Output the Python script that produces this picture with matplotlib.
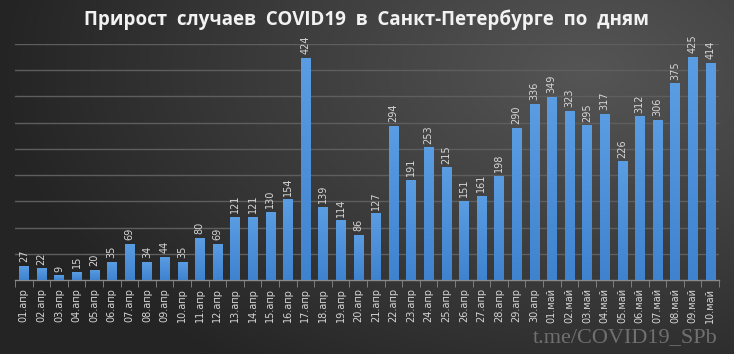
import numpy as np
import matplotlib
matplotlib.use("Agg")
import matplotlib.pyplot as plt
from matplotlib.colors import LinearSegmentedColormap

days_apr = [f"{d:02d}.апр" for d in range(1, 31)]
days_may = [f"{d:02d}.май" for d in range(1, 11)]
categories = days_apr + days_may
values = [27, 22, 9, 15, 20, 35, 69, 34, 44, 35,
          80, 69, 121, 121, 130, 154, 424, 139, 114, 86,
          127, 294, 191, 253, 215, 151, 161, 198, 290, 336,
          349, 323, 295, 317, 226, 312, 306, 375, 425, 414]
title = "Прирост  случаев  COVID19  в  Санкт-Петербурге  по  дням"
watermark = "t.me/COVID19_SPb"

W, H = 734, 354
fig = plt.figure(figsize=(W / 100, H / 100), dpi=100)

# background radial gradient
bg = fig.add_axes([0, 0, 1, 1], zorder=0)
yy, xx = np.mgrid[0:1:200j, 0:1:400j]
r = np.sqrt(((xx - 0.8) * 1.3) ** 2 + ((yy - 0.2) * 1.0) ** 2)
r = np.clip(r / 1.05, 0, 1)
cmap_bg = LinearSegmentedColormap.from_list("bg", ["#555555", "#3d3d3d", "#242424"])
bg.imshow(r, cmap=cmap_bg, aspect="auto", extent=[0, 1, 0, 1], origin="upper")
bg.axis("off")

ax = fig.add_axes([15 / W, 1 - 280 / H, 704 / W, (280 - 44) / H], zorder=1)
ax.patch.set_alpha(0)
x = np.arange(len(values))
bars = ax.bar(x, values, width=0.52, color="#4a8fd8", zorder=3)

# vertical gradient in bars
grad = np.linspace(0, 1, 100).reshape(-1, 1)
cmap_bar = LinearSegmentedColormap.from_list("bar", ["#5b9de2", "#3f83cf"])
for b in bars:
    bx, bw, bh = b.get_x(), b.get_width(), b.get_height()
    im = ax.imshow(grad, cmap=cmap_bar, aspect="auto",
                   extent=[bx, bx + bw, 0, bh], origin="upper", zorder=3)
    im.set_clip_path(b)

ax.set_xlim(-0.5, len(values) - 0.5)
ax.set_ylim(0, 450)
ax.set_yticks(np.arange(50, 451, 50))
ax.yaxis.grid(True, color="#5e5e5e", linewidth=1.0, zorder=1)
ax.tick_params(axis="y", length=0, labelleft=False)
for s in ["top", "right", "left"]:
    ax.spines[s].set_visible(False)
ax.spines["bottom"].set_color("#8a8a8a")
ax.spines["bottom"].set_linewidth(1.0)

ax.set_xticks(x)
ax.set_xticklabels(categories, rotation=90, color="#d6d6d6", fontsize=7,
                   family="DejaVu Sans")
ax.tick_params(axis="x", length=0, pad=6)
ax.set_xticks(np.arange(-0.5, len(values), 1), minor=True)
ax.tick_params(axis="x", which="minor", length=5, color="#8a8a8a")

for xi, v in zip(x, values):
    ax.text(xi, v + 7, str(v), rotation=90, ha="center", va="bottom",
            color="#d6d6d6", fontsize=7, family="DejaVu Sans", zorder=4)

fig.text(0.5, 1 - 20 / H, title, ha="center", va="center", color="#f2f2f2",
         fontsize=13.5, fontweight="bold", family="Open Sans")
fig.text(718 / W, 1 - 338 / H, watermark, ha="right", va="center",
         color="#707070", fontsize=16, family="Liberation Serif")

fig.savefig("out.png", dpi=100)
